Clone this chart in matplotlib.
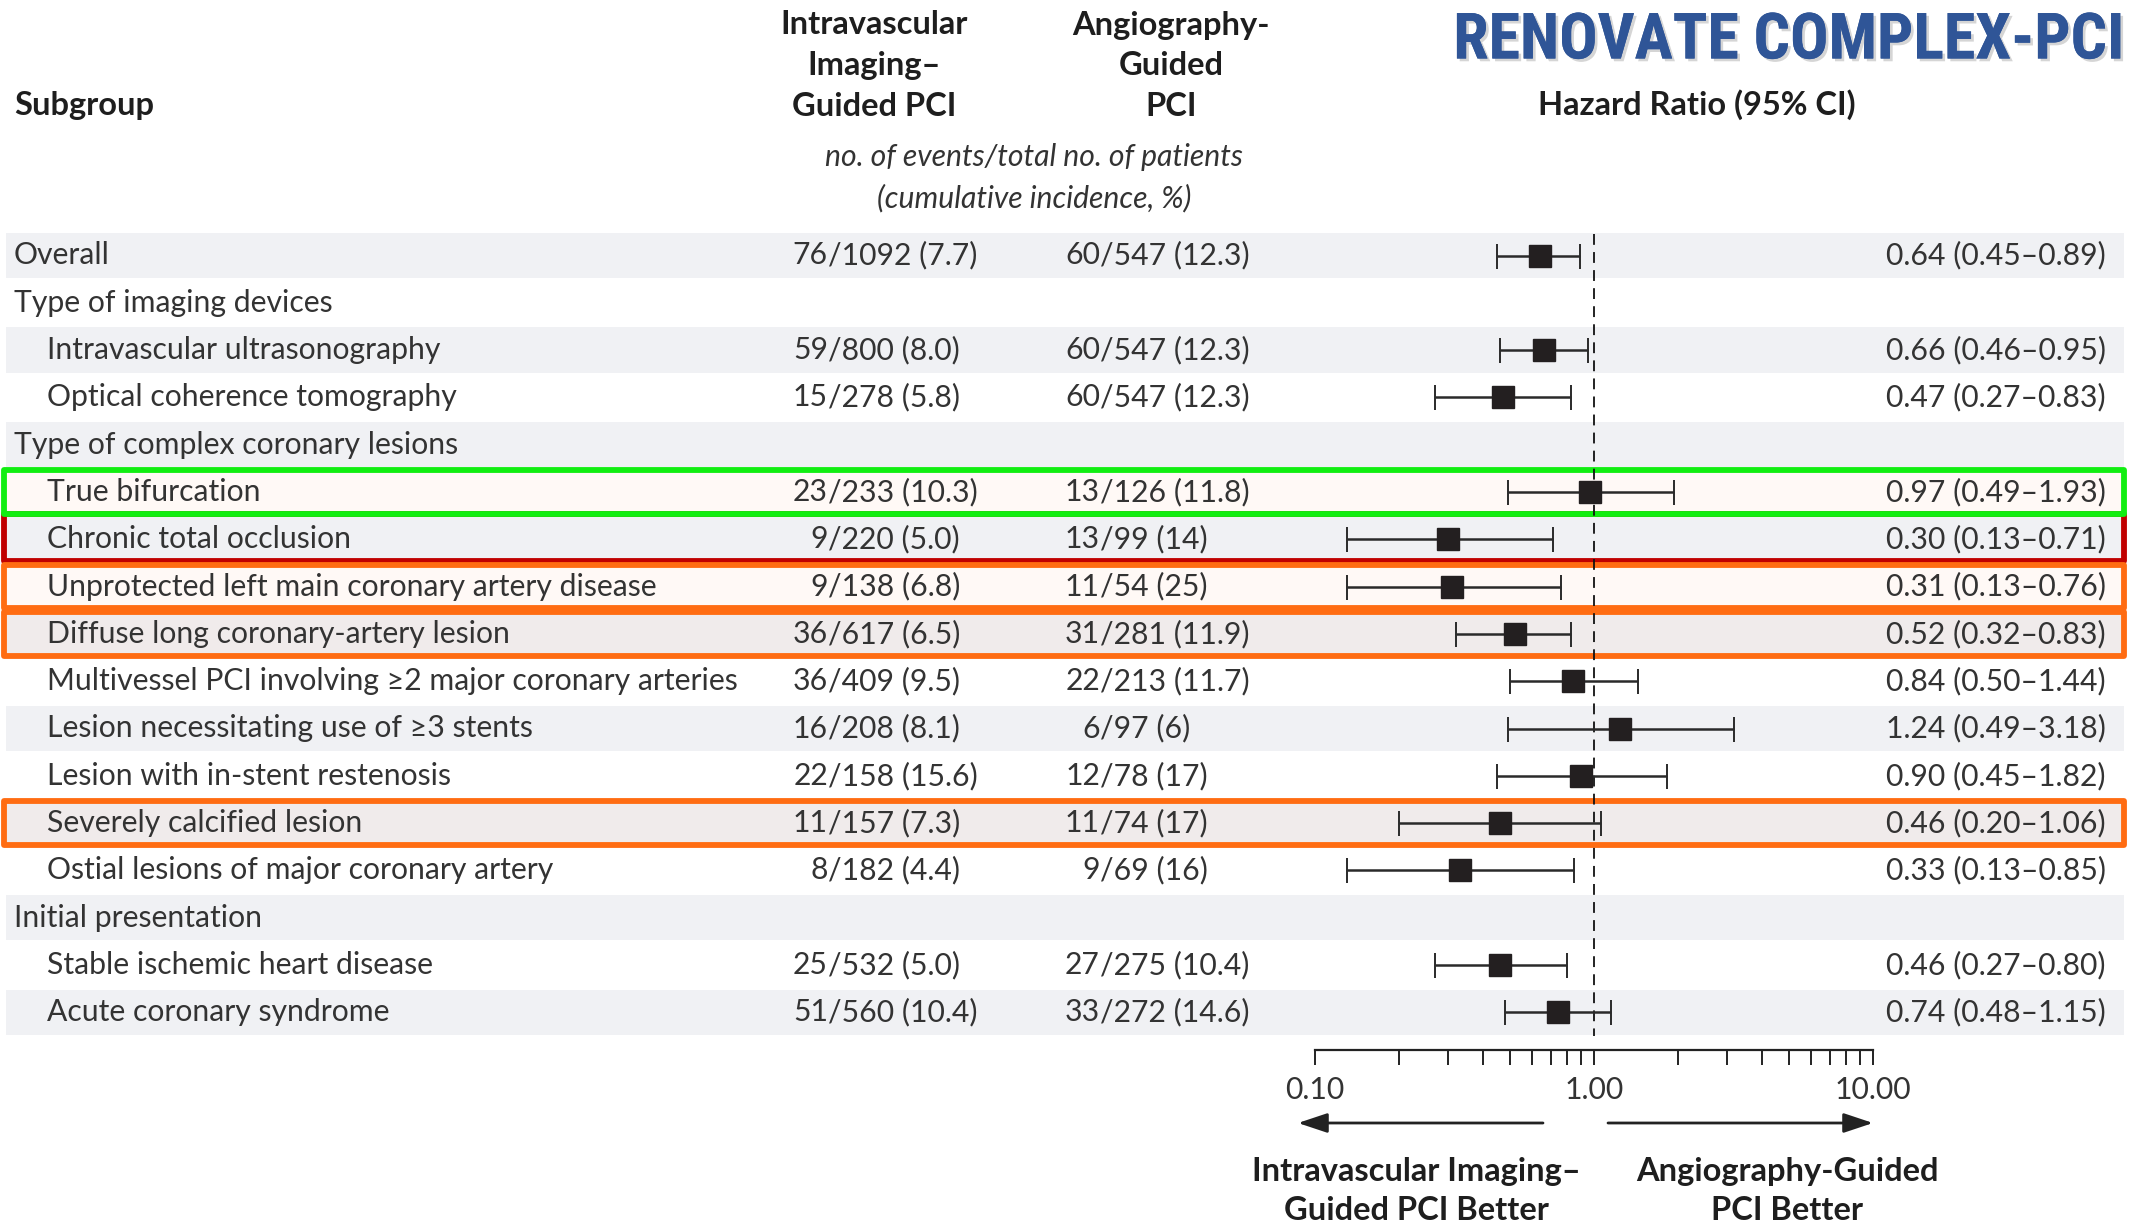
import matplotlib
matplotlib.use("Agg")
import matplotlib.pyplot as plt
from matplotlib.patches import Rectangle
from matplotlib.ticker import LogLocator, FixedLocator, NullFormatter, FixedFormatter
from matplotlib import font_manager
import matplotlib.patheffects as pe

# ---------------- data ----------------
subgroups = [
    "Overall",
    "Type of imaging devices",
    "Intravascular ultrasonography",
    "Optical coherence tomography",
    "Type of complex coronary lesions",
    "True bifurcation",
    "Chronic total occlusion",
    "Unprotected left main coronary artery disease",
    "Diffuse long coronary-artery lesion",
    "Multivessel PCI involving \u22652 major coronary arteries",
    "Lesion necessitating use of \u22653 stents",
    "Lesion with in-stent restenosis",
    "Severely calcified lesion",
    "Ostial lesions of major coronary artery",
    "Initial presentation",
    "Stable ischemic heart disease",
    "Acute coronary syndrome",
]
indent = [0, 0, 1, 1, 0, 1, 1, 1, 1, 1, 1, 1, 1, 1, 0, 1, 1]

imaging_events = ["76/1092 (7.7)", "", "59/800 (8.0)", "15/278 (5.8)", "",
                  "23/233 (10.3)", "9/220 (5.0)", "9/138 (6.8)", "36/617 (6.5)",
                  "36/409 (9.5)", "16/208 (8.1)", "22/158 (15.6)", "11/157 (7.3)",
                  "8/182 (4.4)", "", "25/532 (5.0)", "51/560 (10.4)"]
angio_events = ["60/547 (12.3)", "", "60/547 (12.3)", "60/547 (12.3)", "",
                "13/126 (11.8)", "13/99 (14)", "11/54 (25)", "31/281 (11.9)",
                "22/213 (11.7)", "6/97 (6)", "12/78 (17)", "11/74 (17)",
                "9/69 (16)", "", "27/275 (10.4)", "33/272 (14.6)"]

hr    = [0.64, None, 0.66, 0.47, None, 0.97, 0.30, 0.31, 0.52, 0.84, 1.24, 0.90, 0.46, 0.33, None, 0.46, 0.74]
hr_lo = [0.45, None, 0.46, 0.27, None, 0.49, 0.13, 0.13, 0.32, 0.50, 0.49, 0.45, 0.20, 0.13, None, 0.27, 0.48]
hr_hi = [0.89, None, 0.95, 0.83, None, 1.93, 0.71, 0.76, 0.83, 1.44, 3.18, 1.82, 1.06, 0.85, None, 0.80, 1.15]

axis_ticks = [0.1, 1.0, 10.0]
axis_tick_labels = ["0.10", "1.00", "10.00"]

# highlighted rows: (row index, edge colour, tinted fill)
highlights = [(6, "#c00000", False), (5, "#11ee11", True),
              (7, "#ff6c12", True), (8, "#ff6c12", True), (12, "#ff6c12", True)]

# ---------------- layout (pixel units) ----------------
W, H = 2131, 1226
fig = plt.figure(figsize=(W / 100, H / 100), dpi=100)
ax = fig.add_axes([0, 0, 1, 1])
ax.set_xlim(0, W)
ax.set_ylim(H, 0)
ax.axis("off")

installed = {f.name for f in font_manager.fontManager.ttflist}
BODY = ["Lato", "DejaVu Sans"]
TXT = "#333333"
HDR = "#1e1e1e"
FS = 21.7      # table body
FSH = 23.5     # bold headers

row0, dy = 255.5, 47.3
ys = [row0 + dy * i for i in range(len(subgroups))]

# alternating row bands
for i, y in enumerate(ys):
    if i % 2 == 0:
        ax.add_patch(Rectangle((6, y - dy / 2 + 1), 2118, dy - 2, color="#f0f1f4", zorder=0, lw=0))

# text columns
x_slash_img, x_slash_ang, x_hr = 828, 1100, 2106
for i, y in enumerate(ys):
    ax.text(14 + 33 * indent[i], y, subgroups[i], fontsize=FS, family=BODY,
            color=TXT, va="center", ha="left")
    for s, xs in ((imaging_events[i], x_slash_img), (angio_events[i], x_slash_ang)):
        if s:
            num, rest = s.split("/", 1)
            ax.text(xs, y, num, fontsize=FS, family=BODY, color=TXT, va="center", ha="right")
            ax.text(xs, y, "/" + rest, fontsize=FS, family=BODY, color=TXT, va="center", ha="left")
    if hr[i] is not None:
        ax.text(x_hr, y, f"{hr[i]:.2f} ({hr_lo[i]:.2f}\u2013{hr_hi[i]:.2f})", fontsize=FS,
                family=BODY, color=TXT, va="center", ha="right")

# column headers
ax.text(14, 105, "Subgroup", fontsize=FSH, family=BODY, weight="bold", color=HDR, va="center")
for j, line in enumerate(["Intravascular", "Imaging\u2013", "Guided PCI"]):
    ax.text(874, 25 + 40.5 * j, line, fontsize=FSH, family=BODY, weight="bold", color=HDR,
            va="center", ha="center")
for j, line in enumerate(["Angiography-", "Guided", "PCI"]):
    ax.text(1171, 25 + 40.5 * j, line, fontsize=FSH, family=BODY, weight="bold", color=HDR,
            va="center", ha="center")
ax.text(1697, 105, "Hazard Ratio (95% CI)", fontsize=FSH, family=BODY, weight="bold",
        color=HDR, va="center", ha="center")
ax.text(1034, 157, "no. of events/total no. of patients", fontsize=FS, family=BODY,
        style="italic", color=TXT, va="center", ha="center")
ax.text(1034, 198, "(cumulative incidence, %)", fontsize=FS, family=BODY,
        style="italic", color=TXT, va="center", ha="center")

# study title: a narrow bold grotesque where one is available
if "Liberation Sans Narrow" in installed:
    title_family, title_size = ["Liberation Sans Narrow", "DejaVu Sans"], 46
elif "Roboto Condensed" in installed:
    title_family, title_size = ["Roboto Condensed", "DejaVu Sans"], 46
elif "Roboto" in installed:
    title_family, title_size = ["Roboto", "DejaVu Sans"], 41
else:
    title_family, title_size = ["Liberation Sans", "DejaVu Sans"], 38
ax.text(2123, 41, "RENOVATE COMPLEX-PCI", fontsize=title_size, family=title_family,
        weight="bold", color="#2f5597", va="center", ha="right",
        path_effects=[pe.withSimplePatchShadow(offset=(2, -2), shadow_rgbFace="#888888", alpha=0.35),
                      pe.Normal()])

# highlight boxes
box_lw = 4.2
for idx, col, tint in highlights:
    y = ys[idx]
    top, bot = y - dy / 2 + 2, y + dy / 2 - 2
    if idx == 6:
        top = ys[5] + dy / 2 - 2
    if tint:
        ax.add_patch(Rectangle((4, top), 2120, bot - top, facecolor="#ff8a50", alpha=0.05,
                               lw=0, zorder=1))
    ax.add_patch(Rectangle((4, top), 2120, bot - top, fill=False, edgecolor=col, lw=box_lw,
                           joinstyle="round", zorder=6))

# ---------------- forest panel ----------------
x01, x10 = 1315, 1873
y_axis = 1050
fax = fig.add_axes([x01 / W, 1 - y_axis / H, (x10 - x01) / W, y_axis / H], zorder=3)
fax.set_xscale("log")
fax.set_xlim(0.1, 10)
fax.set_ylim(y_axis, 0)
fax.patch.set_alpha(0)
for s in ("top", "left", "right"):
    fax.spines[s].set_visible(False)
fax.spines["bottom"].set_linewidth(1.6)
fax.spines["bottom"].set_color("#222222")
fax.yaxis.set_visible(False)
fax.xaxis.set_major_locator(FixedLocator(axis_ticks))
fax.xaxis.set_major_formatter(FixedFormatter(axis_tick_labels))
fax.xaxis.set_minor_locator(LogLocator(base=10, subs=[2, 3, 4, 5, 6, 7, 8, 9], numticks=10))
fax.xaxis.set_minor_formatter(NullFormatter())
fax.tick_params(axis="x", which="both", length=11, width=1.4, color="#222222",
                direction="out", pad=8)
fax.tick_params(axis="x", which="major", labelsize=FS, labelcolor=TXT)
for lab in fax.get_xticklabels():
    lab.set_family(BODY)

fax.plot([1, 1], [234, 1036], color="#111111", lw=1.3, dashes=(6, 4), zorder=2)

for i, y in enumerate(ys):
    if hr[i] is None:
        continue
    fax.errorbar([hr[i]], [y], xerr=[[hr[i] - hr_lo[i]], [hr_hi[i] - hr[i]]], fmt="none",
                 ecolor="#2a2a2a", elinewidth=1.8, capsize=9, capthick=1.4, zorder=3)
    fax.plot([hr[i]], [y], marker="s", markersize=16, color="#231f20", zorder=4)

# direction arrows and captions
arrow_style = dict(arrowstyle="-|>,head_length=0.9,head_width=0.3", lw=2,
                   color="#222222", mutation_scale=20, shrinkA=0, shrinkB=0)
ax.annotate("", xy=(1298, 1123), xytext=(1543, 1123), arrowprops=arrow_style)
ax.annotate("", xy=(1873, 1123), xytext=(1608, 1123), arrowprops=arrow_style)
for j, line in enumerate(["Intravascular Imaging\u2013", "Guided PCI Better"]):
    ax.text(1416, 1172 + 39 * j, line, fontsize=FSH, family=BODY, weight="bold", color=HDR,
            va="center", ha="center")
for j, line in enumerate(["Angiography-Guided", "PCI Better"]):
    ax.text(1787, 1172 + 39 * j, line, fontsize=FSH, family=BODY, weight="bold", color=HDR,
            va="center", ha="center")

fig.savefig("out.png", dpi=100)
